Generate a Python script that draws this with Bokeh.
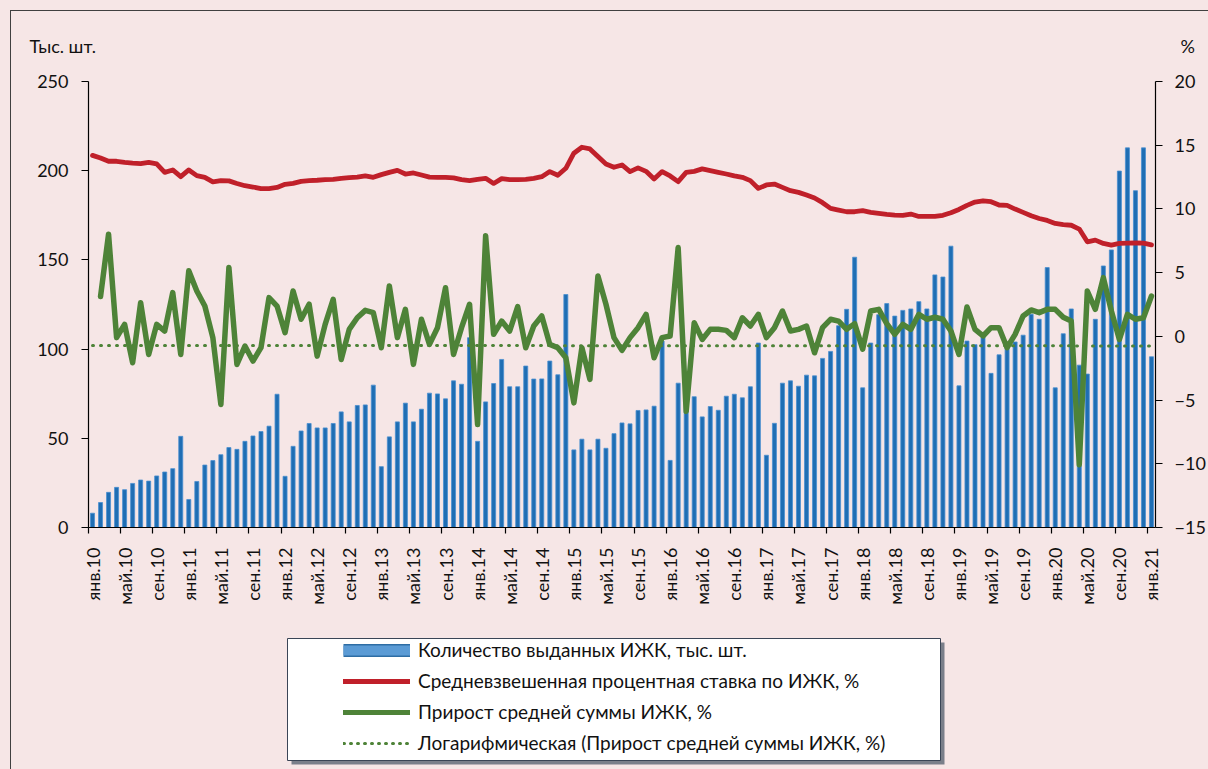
import math
from bokeh.plotting import figure
from bokeh.layouts import column
from bokeh.models import Range1d, LinearAxis, FixedTicker, Legend, LegendItem
from bokeh.core.properties import value
from bokeh.embed import file_html
from bokeh.resources import INLINE

# ---------------- data (Jan 2010 .. Jan 2021, monthly) ----------------
months = list(range(133))

tick_positions = list(range(0, 133, 4))
tick_labels = [f"{m}.{y:02d}" for y in range(10, 21) for m in ("янв", "май", "сен")] + ["янв.21"]

count_izhk = [
    8, 14, 19.7, 22.5, 21.2, 24.7, 26.6, 26, 28.9, 31.1, 33, 51.1,
    15.7, 25.8, 35, 37.5, 40.8, 44.8, 43.8, 48.3, 51.3, 53.8, 56.8, 74.7,
    28.7, 45.5, 54.1, 58.3, 55.8, 55.8, 58.3, 64.8, 59.2, 68.4, 68.7, 79.8,
    34.1, 50.8, 59.2, 69.7, 59.2, 66.3, 75.3, 74.9, 72.1, 82.2, 80.3, 106.4,
    48.3, 70.4, 80.7, 94.2, 78.9, 78.9, 90.5, 83.2, 83.3, 93.3, 85.6, 130.6,
    43.5, 49.5, 43.5, 49.5, 44.4, 52.6, 58.6, 58.1, 65.6, 65.9, 68, 104.5,
    37.6, 80.9, 78, 73.3, 62, 67.8, 65.7, 73.6, 74.7, 72.7, 78.9, 103.4,
    40.5, 58.4, 80.9, 82.2, 79.2, 85.4, 85, 94.8, 98.7, 113.1, 122.3, 151.5,
    78.3, 103.4, 119.3, 125.5, 118.5, 121.7, 122.5, 126.6, 122.5, 141.6, 140.4, 157.7,
    79.4, 104.5, 102.5, 107, 86.4, 96.8, 102, 104, 107.8, 119.5, 116.7, 145.7,
    78.3, 108.6, 122.5, 91, 86, 116.7, 146.6, 155.6, 199.8, 212.8, 188.8, 212.8,
    95.7,
]

rate = [
    14.2, 14.0, 13.74, 13.74, 13.66, 13.6, 13.56, 13.66, 13.53, 12.87, 13.06, 12.53,
    13.06, 12.61, 12.48, 12.12, 12.22, 12.2, 12.0, 11.82, 11.72, 11.59, 11.6, 11.69,
    11.93, 12.0, 12.16, 12.22, 12.25, 12.3, 12.32, 12.4, 12.45, 12.5, 12.6, 12.48,
    12.69, 12.87, 13.03, 12.74, 12.82, 12.66, 12.5, 12.48, 12.48, 12.43, 12.3, 12.22,
    12.32, 12.4, 12.0, 12.38, 12.3, 12.3, 12.32, 12.4, 12.53, 12.93, 12.64, 13.19,
    14.37, 14.84, 14.71, 14.11, 13.53, 13.27, 13.45, 12.93, 13.22, 12.95, 12.35, 12.93,
    12.59, 12.14, 12.87, 12.95, 13.14, 13.0, 12.87, 12.74, 12.59, 12.48, 12.22, 11.61,
    11.88, 11.95, 11.69, 11.43, 11.3, 11.09, 10.86, 10.49, 10.04, 9.91, 9.78, 9.78,
    9.86, 9.73, 9.65, 9.57, 9.52, 9.5, 9.6, 9.41, 9.41, 9.41, 9.5, 9.7,
    9.96, 10.28, 10.54, 10.64, 10.57, 10.31, 10.28, 9.99, 9.73, 9.46, 9.25, 9.1,
    8.86, 8.76, 8.72, 8.42, 7.42, 7.55, 7.29, 7.16, 7.29, 7.32, 7.34, 7.32,
    7.18,
]

# growth of average loan size, from Feb 2010
growth = [
    3.12, 8.02, -0.1, 0.94, -2.07, 2.64, -1.42, 0.94, 0.42, 3.43, -1.42,
    5.14, 3.56, 2.38, -0.1, -5.35, 5.4, -2.2, -0.76, -1.94, -0.89, 3.04, 2.38,
    0.29, 3.56, 1.34, 2.52, -1.55, 0.94, 2.91, -1.81, 0.55, 1.46, 2.04, 1.86,
    -0.89, 3.96, -0.1, 2.12, -2.2, 1.34, -0.63, 0.68, 3.82, -1.42, 0.68, 2.52,
    -6.92, 7.89, 0.16, 1.2, 0.42, 2.33, -0.89, 0.81, 1.6, -0.63, -0.89, -1.68,
    -5.22, -0.89, -3.38, 4.74, 2.52, -0.1, -1.1, -0.1, 0.68, 1.73, -1.68, -0.1,
    0.03, 6.97, -5.88, 1.07, -0.24, 0.55, 0.55, 0.47, -0.1, 1.46, 0.81, 1.73,
    -0.1, 0.68, 1.99, 0.42, 0.55, 0.81, -1.29, 0.68, 1.34, 1.2, 0.55, 1.0,
    -1.0, 1.99, 2.12, 1.0, 0.16, 0.94, 0.55, 1.73, 1.34, 1.5, 1.34, 0.42,
    -1.42, 2.3, 0.55, 0.03, 0.68, 0.68, -0.89, 0.16, 1.6, 2.07, 1.86, 2.12,
    2.12, 1.5, 1.2, -10.07, 3.56, 2.12, 4.61, 1.99, -0.24, 1.73, 1.34, 1.46,
    3.17,
]

trend_x = [months[0], months[-1]]
trend = [-0.71, -0.75]

left_ticks = [0, 50, 100, 150, 200, 250]
right_ticks = [-15, -10, -5, 0, 5, 10, 15, 20]

unit_left = "Тыс. шт."
unit_right = "%"
legend_labels = [
    "Количество выданных ИЖК, тыс. шт.",
    "Средневзвешенная процентная ставка по ИЖК, %",
    "Прирост средней суммы ИЖК, %",
    "Логарифмическая (Прирост средней суммы ИЖК, %)",
]

# ---------------- styles ----------------
BG = "#F6E6E6"
FONT = "Lato"
FS = "18px"
TXT = "#111111"
BAR = "#1F6EB4"
RED = "#C0202A"
GREEN = "#4E8338"
W = 1208
TOP_H = 60
MAIN_H = 570
LEG_H = 139


def strip(height):
    f = figure(width=W, height=height, output_backend="svg", toolbar_location=None,
               x_range=Range1d(0, W), y_range=Range1d(height, 0),
               x_axis_location=None, y_axis_location=None, title=None,
               min_border=0, frame_align=False)
    f.background_fill_color = BG
    f.border_fill_color = BG
    f.outline_line_color = None
    f.grid.visible = False
    return f


# ---------------- top strip: unit captions ----------------
top = strip(TOP_H)
top.text(x=[29, 1180], y=[45, 45], text=[unit_left, unit_right],
         text_font=value(FONT), text_font_size=value(FS), text_color=TXT,
         text_baseline="alphabetic")

# ---------------- main chart ----------------
p = figure(width=W, height=MAIN_H, output_backend="svg", toolbar_location=None,
           x_range=Range1d(-0.5, 132.5), y_range=Range1d(0, 250),
           min_border_left=88, min_border_right=50, min_border_top=21,
           min_border_bottom=103, title=None, frame_align=False)
p.background_fill_color = BG
p.border_fill_color = BG
p.outline_line_color = None
p.xgrid.visible = False
p.ygrid.visible = False
p.extra_y_ranges = {"pct": Range1d(-15, 20)}

xa = p.xaxis[0]
xa.ticker = FixedTicker(ticks=tick_positions,
                        minor_ticks=[-0.5] + [t - 0.5 for t in tick_positions[1:]])
xa.major_label_overrides = {t: l for t, l in zip(tick_positions, tick_labels)}
xa.major_label_orientation = math.pi / 2
xa.major_tick_line_color = None
xa.major_tick_out = 0
xa.major_tick_in = 0
xa.minor_tick_out = 6
xa.minor_tick_in = 0
xa.minor_tick_line_color = "black"
xa.major_label_standoff = 14

ya = p.yaxis[0]
ya.ticker = FixedTicker(ticks=left_ticks)
ya.major_tick_out = 7
ya.major_tick_in = 0
ya.minor_tick_line_color = None
ya.major_label_standoff = 13

yr = LinearAxis(y_range_name="pct", ticker=FixedTicker(ticks=right_ticks))
yr.major_tick_out = 7
yr.major_tick_in = 0
yr.minor_tick_line_color = None
yr.major_label_standoff = 12
p.add_layout(yr, "right")

for ax in (xa, ya, yr):
    ax.major_label_text_font = FONT
    ax.major_label_text_font_size = FS
    ax.major_label_text_color = TXT
    ax.axis_line_color = "black"
    ax.axis_line_width = 1.2
    ax.major_tick_line_width = 1.2
    ax.minor_tick_line_width = 1.2

p.vbar(x=months, top=count_izhk, width=0.5, fill_color=BAR,
       line_color="#4A8FD0", line_width=0.8)
p.line(months, rate, y_range_name="pct", line_color=RED, line_width=4.8,
       line_join="round", line_cap="round")
p.line(trend_x, trend, y_range_name="pct", line_color=GREEN, line_width=3,
       line_dash="1 7", line_cap="round")
p.line(months[1:], growth, y_range_name="pct", line_color=GREEN,
       line_width=5.5, line_join="round", line_cap="round")

# ---------------- legend strip ----------------
leg = strip(LEG_H)
# shadow + white box
leg.quad(left=[291], right=[944], top=[12], bottom=[134], fill_color="#7A7F8A",
         line_color=None)
leg.quad(left=[287], right=[940], top=[8], bottom=[130], fill_color="white",
         line_color="#3A4556", line_width=1)

# legend-only renderers (single point placed off-canvas, never visible)
e = dict(x=[-1000], y=[-1000])
lb_out = leg.line(**e, line_color="#2E6DA4", line_width=13, line_cap="butt")
lb_in = leg.line(**e, line_color="#5B9BD5", line_width=10, line_cap="butt")
lr = leg.line(**e, line_color=RED, line_width=5, line_cap="round")
lg = leg.line(**e, line_color=GREEN, line_width=5, line_cap="round")
lt = leg.line(**e, line_color=GREEN, line_width=3, line_dash="1 6", line_cap="round")

legend = Legend(items=[
    LegendItem(label=legend_labels[0], renderers=[lb_out, lb_in]),
    LegendItem(label=legend_labels[1], renderers=[lr]),
    LegendItem(label=legend_labels[2], renderers=[lg]),
    LegendItem(label=legend_labels[3], renderers=[lt]),
], location=(343, 15), orientation="vertical",
    background_fill_alpha=0, border_line_color=None, padding=0, margin=0,
    spacing=8, glyph_width=67, glyph_height=14, label_height=22,
    label_standoff=8, label_text_font=FONT, label_text_font_size="19px",
    label_text_color=TXT)
leg.add_layout(legend)

layout = column(top, p, leg, spacing=0)

html = file_html(layout, INLINE)
html = html.replace("<head>", f"<head><style>body{{background:{BG};}}</style>", 1)
frame_div = ('<div style="position:fixed;left:10px;top:10px;width:3000px;height:3000px;'
             'border-left:1.5px solid #404040;border-top:1.5px solid #404040;'
             'pointer-events:none;z-index:10;"></div>')
html = html.replace("</body>", frame_div + "</body>", 1)
open("out.html", "w").write(html)
